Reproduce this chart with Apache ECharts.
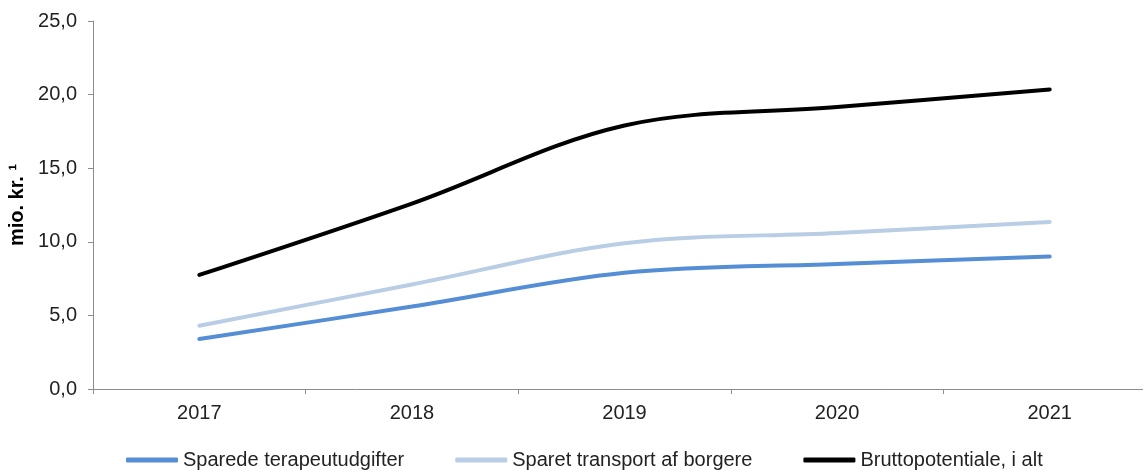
<!DOCTYPE html>
<html><head><meta charset="utf-8">
<script src="https://cdn.jsdelivr.net/npm/echarts@6/dist/echarts.min.js"></script>
<style>html,body{margin:0;padding:0;background:#fff}#c{width:1143px;height:470px}</style>
</head><body><div id="c"></div>
<script>
const categories = ['2017', '2018', '2019', '2020', '2021'];
const seriesNames = ['Sparede terapeutudgifter', 'Sparet transport af borgere', 'Bruttopotentiale, i alt'];
const terapi = [3.4, 5.6, 7.9, 8.5, 9.0];
const transport = [4.3, 7.1, 9.9, 10.6, 11.35];
const brutto = [7.75, 12.6, 17.9, 19.15, 20.35];
const yAxisName = 'mio. kr. ¹';

const colors = ['#558ED5', '#B9CDE5', '#000000'];
const font = 'Liberation Sans, Arial, sans-serif';
const chart = echarts.init(document.getElementById('c'), null, {renderer: 'canvas'});
const data = [terapi, transport, brutto];
chart.setOption({
  animation: false,
  backgroundColor: '#fff',
  textStyle: {fontFamily: font},
  grid: {left: 93, right: -13, top: 21, bottom: 81, containLabel: false, outerBoundsMode: 'none'},
  legend: {
    left: 126, top: 450, padding: 0,
    icon: 'roundRect', itemWidth: 52, itemHeight: 5, itemGap: 51,
    textStyle: {fontSize: 20, color: '#222', fontFamily: font},
    data: seriesNames
  },
  xAxis: {
    type: 'category', data: categories, boundaryGap: true,
    axisLine: {lineStyle: {color: '#8c8c8c', width: 1}},
    axisTick: {show: true, length: 5, lineStyle: {color: '#8c8c8c'}},
    axisLabel: {fontSize: 20, color: '#222', margin: 14, fontFamily: font}
  },
  yAxis: {
    type: 'value', min: 0, max: 25, interval: 5,
    name: yAxisName, nameLocation: 'middle', nameGap: 66, nameRotate: 90,
    nameTextStyle: {fontSize: 20, fontWeight: 'bold', color: '#000', fontFamily: font},
    axisLine: {show: true, lineStyle: {color: '#8c8c8c', width: 1}},
    axisTick: {show: true, length: 5, lineStyle: {color: '#8c8c8c'}},
    splitLine: {show: false},
    axisLabel: {fontSize: 20, color: '#222', margin: 16, fontFamily: font,
      formatter: v => v.toFixed(1).replace('.', ',')}
  },
  series: seriesNames.map((n, i) => ({
    name: n, type: 'line', data: data[i], smooth: 0.35,
    symbol: 'none', color: colors[i],
    lineStyle: {width: 4, color: colors[i], cap: 'round'}
  }))
});
</script></body></html>
